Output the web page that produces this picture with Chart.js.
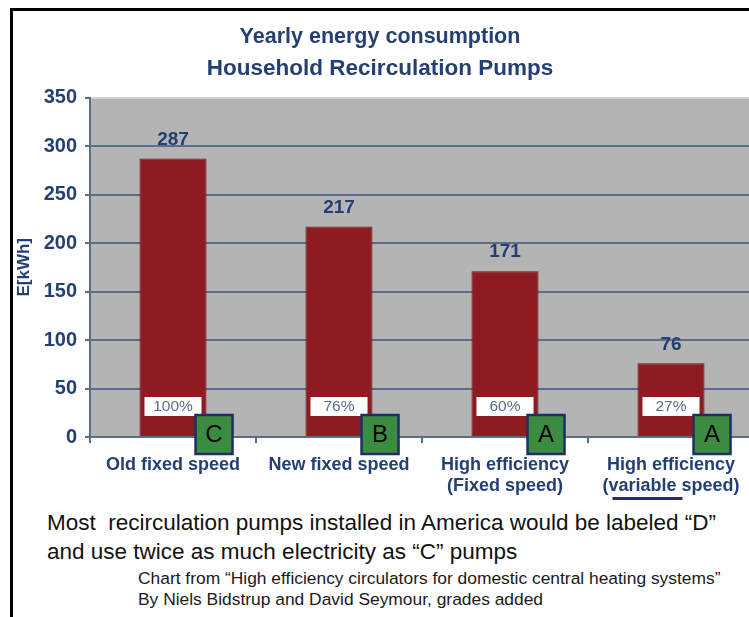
<!DOCTYPE html>
<html>
<head>
<meta charset="utf-8">
<script src="https://cdn.jsdelivr.net/npm/chart.js@4"></script>
<style>
    html, body { margin: 0; padding: 0; background: #fff; overflow: hidden; }
    body { width: 749px; height: 617px; position: relative; font-family: "Liberation Sans", Arial, sans-serif; }
    #frame { position: absolute; left: 10px; top: 8px; width: 800px; height: 700px;
             border-left: 3px solid #000; border-top: 3px solid #000; pointer-events: none; z-index: 2; }
    #chart { position: absolute; left: 0; top: 0; }
    .note { position: absolute; white-space: nowrap; color: #111; line-height: 1.15; }
    .big { font-size: 22.5px; left: 47px; }
    .small { font-size: 17.4px; left: 138px; color: #1a1a1a; }
</style>
</head>
<body>
<div id="frame"></div>
<canvas id="chart" width="760" height="510"></canvas>
<div class="note big" style="top:510px">Most&nbsp; recirculation pumps installed in America would be labeled “D”</div>
<div class="note big" style="top:539px">and use twice as much electricity as “C” pumps</div>
<div class="note small" style="top:568px">Chart from “High efficiency circulators for domestic central heating systems”</div>
<div class="note small" style="top:589px">By Niels Bidstrup and David Seymour, grades added</div>

<script>
// data
const categories = [
    'Old fixed speed',
    'New fixed speed',
    ['High efficiency', '(Fixed speed)'],
    ['High efficiency', '(variable speed)'],
];
const energyKWh = [287, 217, 171, 76];
const relativeUse = ['100%', '76%', '60%', '27%'];
const grades = ['C', 'B', 'A', 'A'];
const yMin = 0, yMax = 350, yStep = 50;

const NAVY = '#233f74';
const GRID = '#5a6d8c';
const FONT = '"Liberation Sans", Arial, sans-serif';

// gray plot background
const plotBg = {
    id: 'plotBg',
    beforeDraw(chart) {
        const { ctx, chartArea: a } = chart;
        ctx.save();
        ctx.fillStyle = '#b4b4b4';
        ctx.fillRect(a.left, a.top, a.right - a.left, a.bottom - a.top);
        ctx.restore();
    }
};

// value labels, percentage boxes, grade boxes, underline
const barNotes = {
    id: 'barNotes',
    afterDatasetsDraw(chart) {
        const ctx = chart.ctx;
        const bars = chart.getDatasetMeta(0).data;
        ctx.save();
        bars.forEach((bar, i) => {
            // value above bar
            ctx.font = 'bold 19px ' + FONT;
            ctx.fillStyle = NAVY;
            ctx.textAlign = 'center';
            ctx.textBaseline = 'middle';
            ctx.fillText(String(energyKWh[i]), bar.x, bar.y - 19);

            // white percentage box
            const left = bar.x - bar.width / 2 + 5;
            const w = bar.width - 10;
            const top = bar.base - 39;
            ctx.fillStyle = '#ffffff';
            ctx.fillRect(left, top, w, 19);
            ctx.font = '15.5px ' + FONT;
            ctx.fillStyle = '#5b6d8c';
            ctx.fillText(relativeUse[i], bar.x, top + 10);
        });
        ctx.restore();
    },
    afterDraw(chart) {
        const ctx = chart.ctx;
        const bars = chart.getDatasetMeta(0).data;
        ctx.save();
        bars.forEach((bar, i) => {
            const left = bar.x + bar.width / 2 - 11;
            const top = bar.base - 21;
            ctx.fillStyle = '#3b8c40';
            ctx.fillRect(left, top, 37, 39);
            ctx.lineWidth = 2.5;
            ctx.strokeStyle = '#1f2f63';
            ctx.strokeRect(left, top, 37, 39);
            ctx.font = '24px ' + FONT;
            ctx.fillStyle = '#000';
            ctx.textAlign = 'center';
            ctx.textBaseline = 'middle';
            ctx.fillText(grades[i], left + 18.5, top + 20.5);
        });

        // underline "variable" in the last label
        const xs = chart.scales.x;
        const last = categories.length - 1;
        const line = categories[last][1];
        ctx.font = 'bold 18px ' + FONT;
        const cx = xs.getPixelForValue(last);
        const start = cx - ctx.measureText(line).width / 2 + ctx.measureText('(').width;
        const wWord = ctx.measureText('variable').width;
        ctx.fillStyle = '#28287a';
        ctx.fillRect(start + 4, chart.chartArea.bottom + 60, wWord + 2, 3);
        ctx.restore();
    }
};

new Chart(document.getElementById('chart'), {
    type: 'bar',
    data: {
        labels: categories,
        datasets: [{
            data: energyKWh,
            backgroundColor: '#8e1b22',
            borderColor: '#74121a',
            borderWidth: 1,
            categoryPercentage: 1,
            barPercentage: 0.404,
        }]
    },
    options: {
        responsive: false,
        animation: false,
        devicePixelRatio: 1,
        layout: { padding: { top: 0, right: 6, bottom: 0, left: 6 } },
        plugins: {
            legend: { display: false },
            tooltip: { enabled: false },
            title: {
                display: true,
                text: 'Yearly energy consumption',
                color: NAVY,
                font: { family: FONT, size: 21.5, weight: 'bold', lineHeight: 1.2 },
                padding: { top: 24, bottom: 0 },
            },
            subtitle: {
                display: true,
                text: 'Household Recirculation Pumps',
                color: NAVY,
                font: { family: FONT, size: 22.5, weight: 'bold', lineHeight: 1.2 },
                padding: { top: 5.2, bottom: 15.5 },
            },
        },
        scales: {
            x: {
                afterFit(scale) { scale.height = 73; },
                grid: {
                    offset: true,
                    drawOnChartArea: false,
                    tickLength: 6,
                    color: GRID,
                    lineWidth: 2,
                },
                border: { color: GRID, width: 2 },
                ticks: {
                    padding: 11,
                    color: NAVY,
                    maxRotation: 0,
                    font: { family: FONT, size: 18, weight: 'bold', lineHeight: 1.2 },
                },
            },
            y: {
                min: yMin,
                max: yMax,
                afterFit(scale) { scale.width = 84; },
                grid: {
                    color: (c) => (c.tick && c.tick.value === yMax ? '#d4d4d4' : GRID),
                    tickColor: GRID,
                    lineWidth: 2,
                    tickLength: 5,
                },
                border: { color: GRID, width: 2 },
                ticks: {
                    stepSize: yStep,
                    padding: 8,
                    color: NAVY,
                    font: { family: FONT, size: 20, weight: 'bold' },
                },
                title: {
                    display: true,
                    text: 'E[kWh]',
                    color: NAVY,
                    font: { family: FONT, size: 17, weight: 'bold', lineHeight: 1.2 },
                    padding: { top: 8, bottom: 0 },
                },
            },
        },
    },
    plugins: [plotBg, barNotes],
});
</script>
</body>
</html>
